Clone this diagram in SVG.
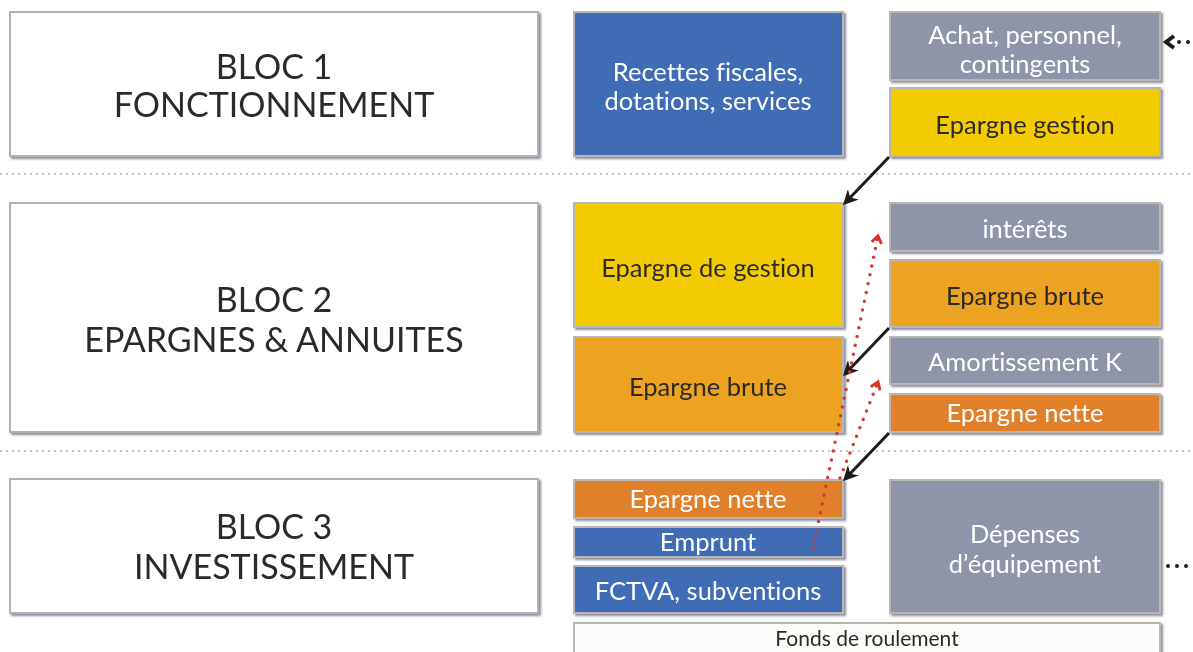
<svg xmlns="http://www.w3.org/2000/svg" width="1193" height="652" viewBox="0 0 1193 652">
<style>
text{font-family:Lato,"Open Sans","Liberation Sans",sans-serif;text-anchor:middle;font-variant-ligatures:none}
.bloc{fill:#fff;stroke:#b4b2b0;stroke-width:2}
.node{stroke:#b9b7b0;stroke-width:2}
.blue{fill:#3f6cb5}
.gray{fill:#8f95a9}
.yel{fill:#f2cb05}
.org{fill:#eca322}
.dorg{fill:#e0802b}
.wht{fill:#fcfcfa}
.big{font-size:34px;fill:#2a2a2a}
.lbl{font-size:25.5px}
.lt{fill:#ffffff}
.dk{fill:#2e2a24}
.sep{stroke:#c9c5b2;stroke-width:2;stroke-dasharray:2 4;fill:none}
.blk{stroke:#1c1c1c;stroke-width:3;fill:none;marker-end:url(#ah)}
.red{stroke:#d8372a;stroke-width:3.5;stroke-linecap:round;stroke-dasharray:0 9;fill:none;marker-end:url(#rh)}
.dots{stroke:#1c1c1c;stroke-width:4;stroke-linecap:round;stroke-dasharray:0 9;fill:none}
</style>
<defs>
<filter id="sh" x="-5%" y="-5%" width="110%" height="120%">
<feDropShadow dx="2" dy="2" stdDeviation="1" flood-color="#5a5a78" flood-opacity="0.7"/>
</filter>
<marker id="ah" viewBox="0 0 10 10" refX="8" refY="5" markerWidth="5" markerHeight="5" orient="auto">
<path d="M0,0 L10,5 L0,10 L3,5 Z" fill="#1c1c1c"/>
</marker>
<marker id="rh" viewBox="0 0 12 12" refX="9" refY="6" markerWidth="12" markerHeight="12" orient="auto" markerUnits="userSpaceOnUse">
<path d="M2,1 L9,6 L2,11" fill="none" stroke="#d8372a" stroke-width="3"/>
</marker>
</defs>
<rect width="1193" height="652" fill="#ffffff"/>

<g id="separators">
<line class="sep" x1="0" y1="174" x2="1193" y2="174"/>
<line class="sep" x1="0" y1="451" x2="1193" y2="451"/>
</g>

<g id="bloc1" filter="url(#sh)">
<rect class="bloc" x="10" y="12" width="528" height="144"/>
<text class="big" x="274" y="79">BLOC 1</text>
<text class="big" x="274" y="117">FONCTIONNEMENT</text>
</g>
<g id="bloc2" filter="url(#sh)">
<rect class="bloc" x="10" y="203" width="528" height="229"/>
<text class="big" x="274" y="312">BLOC 2</text>
<text class="big" x="274" y="352">EPARGNES &amp; ANNUITES</text>
</g>
<g id="bloc3" filter="url(#sh)">
<rect class="bloc" x="10" y="479" width="528" height="134"/>
<text class="big" x="274" y="539">BLOC 3</text>
<text class="big" x="274" y="579">INVESTISSEMENT</text>
</g>

<g id="recettes" filter="url(#sh)">
<rect class="node blue" x="574" y="12" width="269" height="144"/>
<text class="lbl lt" x="708" y="81">Recettes fiscales,</text>
<text class="lbl lt" x="708" y="110">dotations, services</text>
</g>
<g id="achat" filter="url(#sh)">
<rect class="node gray" x="890" y="12" width="270" height="68"/>
<text class="lbl lt" x="1025" y="44">Achat, personnel,</text>
<text class="lbl lt" x="1025" y="73">contingents</text>
</g>
<g id="epargne-gestion" filter="url(#sh)">
<rect class="node yel" x="890" y="88" width="270" height="68"/>
<text class="lbl dk" x="1025" y="134">Epargne gestion</text>
</g>

<g id="epargne-de-gestion" filter="url(#sh)">
<rect class="node yel" x="574" y="203" width="269" height="124"/>
<text class="lbl dk" x="708" y="277">Epargne de gestion</text>
</g>
<g id="epargne-brute-l" filter="url(#sh)">
<rect class="node org" x="574" y="337" width="269" height="95"/>
<text class="lbl dk" x="708" y="396">Epargne brute</text>
</g>
<g id="interets" filter="url(#sh)">
<rect class="node gray" x="890" y="203" width="270" height="48"/>
<text class="lbl lt" x="1025" y="238">intérêts</text>
</g>
<g id="epargne-brute-r" filter="url(#sh)">
<rect class="node org" x="890" y="260" width="270" height="67"/>
<text class="lbl dk" x="1025" y="305">Epargne brute</text>
</g>
<g id="amortissement" filter="url(#sh)">
<rect class="node gray" x="890" y="337" width="270" height="47"/>
<text class="lbl lt" x="1025" y="371">Amortissement K</text>
</g>
<g id="epargne-nette-r" filter="url(#sh)">
<rect class="node dorg" x="890" y="394" width="270" height="38"/>
<text class="lbl lt" x="1025" y="422">Epargne nette</text>
</g>

<g id="epargne-nette-l" filter="url(#sh)">
<rect class="node dorg" x="574" y="480" width="269" height="38"/>
<text class="lbl lt" x="708" y="508">Epargne nette</text>
</g>
<g id="emprunt" filter="url(#sh)">
<rect class="node blue" x="574" y="527" width="269" height="30"/>
<text class="lbl lt" x="708" y="551">Emprunt</text>
</g>
<g id="fctva" filter="url(#sh)">
<rect class="node blue" x="574" y="566" width="269" height="47"/>
<text class="lbl lt" x="708" y="600">FCTVA, subventions</text>
</g>
<g id="depenses" filter="url(#sh)">
<rect class="node gray" x="890" y="480" width="270" height="133"/>
<text class="lbl lt" x="1025" y="543">Dépenses</text>
<text class="lbl lt" x="1025" y="573">d’équipement</text>
</g>
<g id="fonds" filter="url(#sh)">
<rect class="node wht" x="574" y="623" width="586" height="40"/>
<text class="dk" x="867" y="646" style="font-size:21px">Fonds de roulement</text>
</g>

<g id="connectors">
<line class="blk" x1="889" y1="157" x2="845" y2="203"/>
<line class="blk" x1="889" y1="328" x2="845" y2="374"/>
<line class="blk" x1="889" y1="433" x2="845" y2="479"/>
<path class="red" d="M813,548 L878,236"/>
<path class="red" d="M840,478 L878,382"/>
<path class="dots" d="M1188,42 L1176,42"/>
<path d="M1174,36 L1166,42 L1174,48" fill="none" stroke="#1c1c1c" stroke-width="4"/>
<path class="dots" d="M1168,566 L1188,566"/>
</g>
</svg>
